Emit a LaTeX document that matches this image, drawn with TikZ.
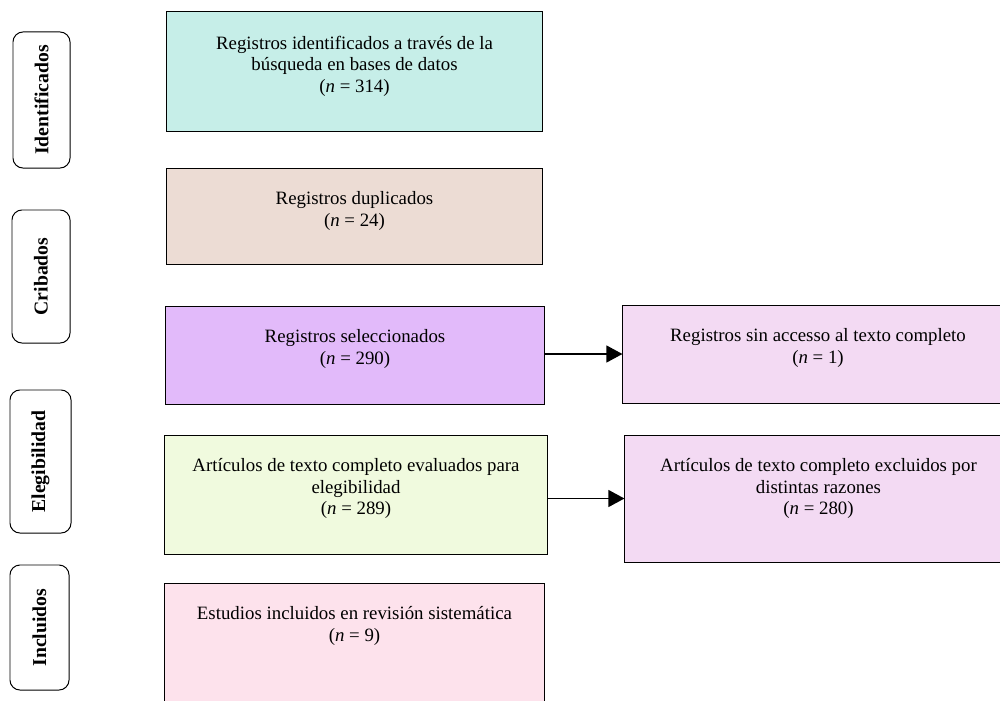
\documentclass[tikz,border=0pt]{standalone}
\usepackage{fontspec}
\setmainfont{Liberation Serif}
\usetikzlibrary{arrows.meta}

\definecolor{identcol}{RGB}{198,238,232}
\definecolor{dupcol}{RGB}{236,220,212}
\definecolor{selcol}{RGB}{226,186,250}
\definecolor{elegcol}{RGB}{240,250,222}
\definecolor{inclcol}{RGB}{253,226,236}
\definecolor{exclcol}{RGB}{243,218,243}

\newcommand\flowsize{\fontsize{13.4}{15.3}\selectfont}

\tikzset{
  stage/.style={draw, rounded corners=0.25cm, rotate=90, line width=0.7pt, font=\fontsize{14}{16}\selectfont\bfseries},
  recbox/.style={draw, line width=0.7pt, inner sep=0pt},
  rectext/.style={anchor=north, align=center, inner sep=0pt, yshift=-0.6cm, font=\flowsize},
  flow/.style={-{Triangle[length=0.4cm,width=0.42cm]}, line width=1.3pt},
}

\begin{document}
\begin{tikzpicture}[x=0.025cm, y=-0.025cm]

\clip (0,0) rectangle (1000,700);

% stages on the left:
\node[stage, minimum width=3.4cm, minimum height=1.425cm] (sid) at (41.5,100) {Identificados};
\node[stage, minimum width=3.325cm, minimum height=1.45cm] (scr) at (41,276.5) {Cribados};
\node[stage, minimum width=3.575cm, minimum height=1.525cm] (sel) at (40.5,461.5) {Elegibilidad};
\node[stage, minimum width=3.125cm, minimum height=1.475cm] (sin) at (39.5,627.5) {Incluidos};

% main column:
\node[recbox, fill=identcol, minimum width=9.375cm, minimum height=2.975cm] (b1) at (354.5,71.5) {};
\node[rectext] (t1) at (b1.north) {Registros identificados a través de la\\búsqueda en bases de datos\\(\textit{n} = 314)};

\node[recbox, fill=dupcol, minimum width=9.375cm, minimum height=2.4cm] (b2) at (354.5,216) {};
\node[rectext] (t2) at (b2.north) {Registros duplicados\\(\textit{n} = 24)};

\node[recbox, fill=selcol, minimum width=9.45cm, minimum height=2.45cm] (b3) at (355,355) {};
\node[rectext] (t3) at (b3.north) {Registros seleccionados\\(\textit{n} = 290)};

\node[recbox, fill=elegcol, minimum width=9.55cm, minimum height=2.975cm] (b4) at (356,494.5) {};
\node[rectext] (t4) at (b4.north) {Artículos de texto completo evaluados para\\elegibilidad\\(\textit{n} = 289)};

\node[recbox, fill=inclcol, minimum width=9.475cm, minimum height=3.175cm] (b5) at (354.5,646.5) {};
\node[rectext] (t5) at (b5.north) {Estudios incluidos en revisión sistemática\\(\textit{n} = 9)};

% exclusions:
\node[recbox, fill=exclcol, minimum width=9.75cm, minimum height=2.45cm] (r1) at (818,354) {};
\node[rectext] (u1) at (r1.north) {Registros sin accesso al texto completo\\(\textit{n} = 1)};

\node[recbox, fill=exclcol, minimum width=9.675cm, minimum height=3.175cm] (r2) at (818.5,498.5) {};
\node[rectext] (u2) at (r2.north) {Artículos de texto completo excluidos por\\distintas razones\\(\textit{n} = 280)};

\draw[flow] (b3.east |- r1.west) -- (r1.west);
\draw[flow] (b4.east |- r2.west) -- (r2.west);

\end{tikzpicture}
\end{document}
